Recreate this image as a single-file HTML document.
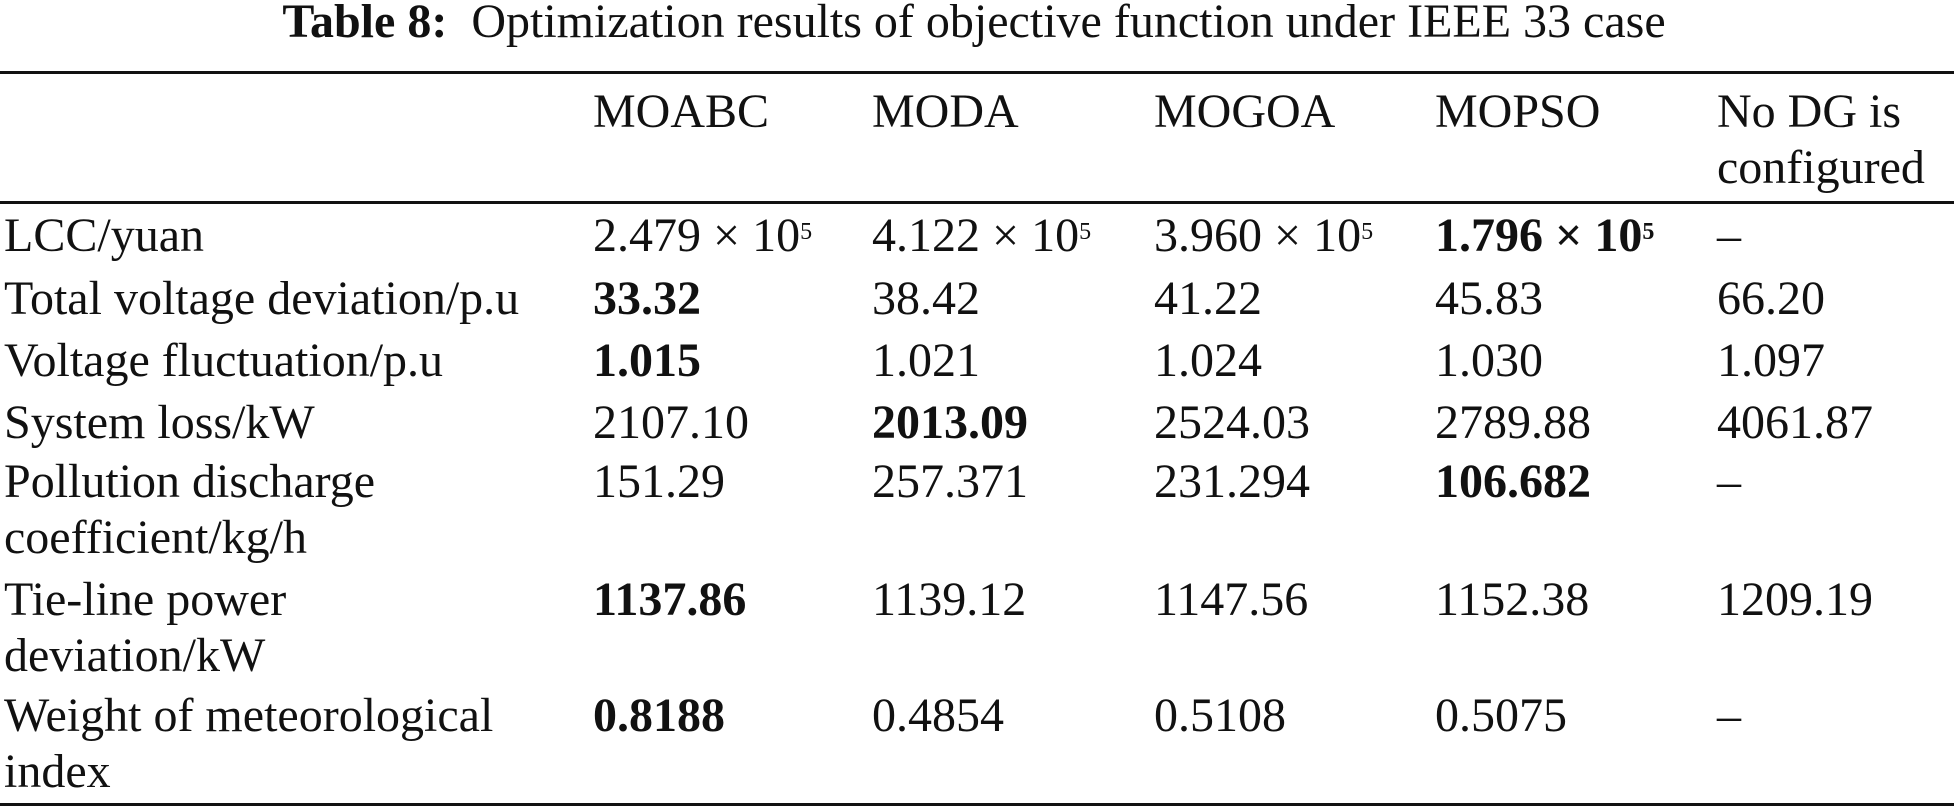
<!DOCTYPE html>
<html><head><meta charset="utf-8"><style>
html,body{margin:0;padding:0;background:#fff;}
#t{position:relative;width:1954px;height:812px;overflow:hidden;font-family:"Liberation Serif",serif;color:#111;font-size:48px;}
.c{position:absolute;white-space:nowrap;line-height:56px;}
.b{font-weight:bold;}
.rule{position:absolute;left:0;width:1954px;background:#111;}
sup{font-size:24px;vertical-align:top;position:relative;top:-4px;}
</style></head><body>
<div id="t">
<div class="c" style="left:0px;top:-6px;width:1948px;text-align:center;"><b>Table 8:</b>&nbsp; Optimization results of objective function under IEEE 33 case</div>
<div class="rule" style="top:71px;height:3px;"></div>
<div class="rule" style="top:201px;height:3px;"></div>
<div class="rule" style="top:803px;height:3px;"></div>

<div class="c" style="left:593px;top:84px">MOABC</div>
<div class="c" style="left:872px;top:84px">MODA</div>
<div class="c" style="left:1154px;top:84px">MOGOA</div>
<div class="c" style="left:1435px;top:84px">MOPSO</div>
<div class="c" style="left:1717px;top:84px">No DG is<br>configured</div>

<div class="c" style="left:4px;top:208px">LCC/yuan</div>
<div class="c" style="left:593px;top:208px">2.479 × 10<sup>5</sup></div>
<div class="c" style="left:872px;top:208px">4.122 × 10<sup>5</sup></div>
<div class="c" style="left:1154px;top:208px">3.960 × 10<sup>5</sup></div>
<div class="c b" style="left:1435px;top:208px">1.796 × 10<sup>5</sup></div>
<div class="c" style="left:1717px;top:208px">–</div>

<div class="c" style="left:4px;top:271px">Total voltage deviation/p.u</div>
<div class="c b" style="left:593px;top:271px">33.32</div>
<div class="c" style="left:872px;top:271px">38.42</div>
<div class="c" style="left:1154px;top:271px">41.22</div>
<div class="c" style="left:1435px;top:271px">45.83</div>
<div class="c" style="left:1717px;top:271px">66.20</div>

<div class="c" style="left:4px;top:333px">Voltage fluctuation/p.u</div>
<div class="c b" style="left:593px;top:333px">1.015</div>
<div class="c" style="left:872px;top:333px">1.021</div>
<div class="c" style="left:1154px;top:333px">1.024</div>
<div class="c" style="left:1435px;top:333px">1.030</div>
<div class="c" style="left:1717px;top:333px">1.097</div>

<div class="c" style="left:4px;top:395px">System loss/kW</div>
<div class="c" style="left:593px;top:395px">2107.10</div>
<div class="c b" style="left:872px;top:395px">2013.09</div>
<div class="c" style="left:1154px;top:395px">2524.03</div>
<div class="c" style="left:1435px;top:395px">2789.88</div>
<div class="c" style="left:1717px;top:395px">4061.87</div>

<div class="c" style="left:4px;top:454px">Pollution discharge<br>coefficient/kg/h</div>
<div class="c" style="left:593px;top:454px">151.29</div>
<div class="c" style="left:872px;top:454px">257.371</div>
<div class="c" style="left:1154px;top:454px">231.294</div>
<div class="c b" style="left:1435px;top:454px">106.682</div>
<div class="c" style="left:1717px;top:454px">–</div>

<div class="c" style="left:4px;top:572px">Tie-line power<br>deviation/kW</div>
<div class="c b" style="left:593px;top:572px">1137.86</div>
<div class="c" style="left:872px;top:572px">1139.12</div>
<div class="c" style="left:1154px;top:572px">1147.56</div>
<div class="c" style="left:1435px;top:572px">1152.38</div>
<div class="c" style="left:1717px;top:572px">1209.19</div>

<div class="c" style="left:4px;top:688px">Weight of meteorological<br>index</div>
<div class="c b" style="left:593px;top:688px">0.8188</div>
<div class="c" style="left:872px;top:688px">0.4854</div>
<div class="c" style="left:1154px;top:688px">0.5108</div>
<div class="c" style="left:1435px;top:688px">0.5075</div>
<div class="c" style="left:1717px;top:688px">–</div>
</div>
</body></html>
